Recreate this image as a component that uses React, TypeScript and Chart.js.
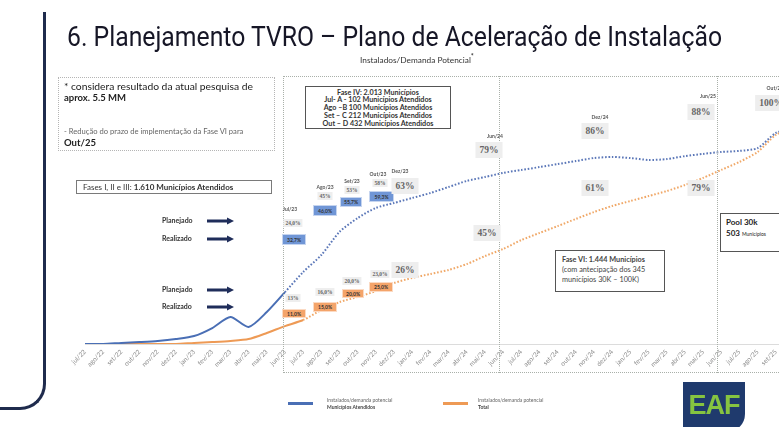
import React, { useEffect, useLayoutEffect, useRef } from "react";
import { Chart, registerables } from "chart.js";

Chart.register(...registerables);

const months = [
  "jul/22", "ago/22", "set/22", "out/22", "nov/22", "dez/22",
  "jan/23", "fev/23", "mar/23", "abr/23", "mai/23", "jun/23",
  "jul/23", "ago/23", "set/23", "out/23", "nov/23", "dez/23",
  "jan/24", "fev/24", "mar/24", "abr/24", "mai/24", "jun/24",
  "jul/24", "ago/24", "set/24", "out/24", "nov/24", "dez/24",
  "jan/25", "fev/25", "mar/25", "abr/25", "mai/25", "jun/25",
  "jul/25", "ago/25", "set/25", "out/25",
];

const municipiosAtendidos = [
  0, 0, 0.5, 0.9, 1.4, 2.3, 3.7, 7.4, 12.5, 7.9, 14.8, 24.0,
  33.3, 41.2, 51.9, 58.3, 63.0, 65.3, 67.6, 69.9, 72.7, 75.5, 77.3, 79.2,
  80.6, 81.9, 83.3, 84.7, 86.1, 86.6, 86.1, 85.2, 85.6, 87.0, 88.0, 88.9,
  89.4, 90.7, 97.7, 100,
];

const total = [
  0, 0, 0, 0, 0, 0, 0.5, 0.9, 1.4, 2.3, 5.1, 8.3,
  11.1, 15.7, 19.4, 21.8, 24.5, 28.2, 30.6, 32.4, 34.3, 37.0, 40.7, 44.0,
  48.1, 51.4, 54.6, 57.9, 61.1, 63.9, 66.2, 68.5, 70.8, 73.6, 76.9, 80.6,
  84.3, 88.9, 96.8, 100,
];

const realizedUntilBlue = 11;
const realizedUntilOrange = 12;

const BLUE = "#4a6fb5";
const BLUE_DOT = "#5b77b8";
const ORANGE = "#ee9a55";
const ORANGE_DOT = "#f0a868";

const body = "Lato, 'Open Sans', sans-serif";

function Abs(props: { x: number; y: number; children?: any; style?: any }) {
  return (
    <div style={{ position: "absolute", left: props.x, top: props.y, whiteSpace: "nowrap", ...props.style }}>
      {props.children}
    </div>
  );
}

function Arrow({ x, y }: { x: number; y: number }) {
  return (
    <svg style={{ position: "absolute", left: x, top: y - 4 }} width={28} height={8}>
      <line x1={0} y1={4} x2={21} y2={4} stroke="#1f2d5a" strokeWidth={3} />
      <polygon points="20,0.5 27,4 20,7.5" fill="#1f2d5a" />
    </svg>
  );
}

function Pct({ x, y, text, big }: { x: number; y: number; text: string; big?: boolean }) {
  return (
    <div
      style={{
        position: "absolute",
        left: x,
        top: y,
        transform: "translate(-50%,-50%)",
        background: "#eeeeee",
        color: "#666",
        fontFamily: "'Liberation Serif', 'DejaVu Serif', serif",
        fontWeight: "bold",
        fontSize: big ? 9.5 : 5.5,
        padding: big ? "3px 4px" : "1px 2px",
        whiteSpace: "nowrap",
      }}
    >
      {text}
    </div>
  );
}

function Tiny({ x, y, text }: { x: number; y: number; text: string }) {
  return (
    <div
      style={{
        position: "absolute",
        left: x,
        top: y,
        transform: "translate(-50%,-50%)",
        color: "#555",
        fontFamily: body,
        fontWeight: "bold",
        fontSize: 5,
        whiteSpace: "nowrap",
      }}
    >
      {text}
    </div>
  );
}

function Box({ x1, y1, x2, y2, text, color }: { x1: number; y1: number; x2: number; y2: number; text: string; color: string }) {
  return (
    <div
      style={{
        position: "absolute",
        left: x1,
        top: y1,
        width: x2 - x1,
        height: y2 - y1,
        background: color,
        color: "#333",
        fontFamily: body,
        fontWeight: "bold",
        fontSize: 5,
        display: "flex",
        alignItems: "center",
        justifyContent: "center",
        boxSizing: "border-box",
        border: "1px solid rgba(255,255,255,0.6)",
      }}
    >
      {text}
    </div>
  );
}

export default function App() {
  const ref = useRef<HTMLCanvasElement>(null);
  const titleRef = useRef<HTMLDivElement>(null);

  useLayoutEffect(() => {
    const el = titleRef.current;
    if (!el) return;
    const w = el.getBoundingClientRect().width;
    if (w > 0) el.style.transform = `scaleX(${655 / w})`;
  }, []);

  useEffect(() => {
    if (!ref.current) return;
    const chart = new Chart(ref.current, {
      type: "line",
      data: {
        labels: months,
        datasets: [
          {
            label: "Municípios Atendidos",
            data: municipiosAtendidos,
            borderColor: BLUE,
            borderWidth: 2,
            pointRadius: 0,
            tension: 0.25,
            segment: {
              borderDash: (c: any) => (c.p0DataIndex >= realizedUntilBlue ? [1.6, 1.8] : undefined),
              borderColor: (c: any) => (c.p0DataIndex >= realizedUntilBlue ? BLUE_DOT : BLUE),
            },
          },
          {
            label: "Total",
            data: total,
            borderColor: ORANGE,
            borderWidth: 2,
            pointRadius: 0,
            tension: 0.25,
            segment: {
              borderDash: (c: any) => (c.p0DataIndex >= realizedUntilOrange ? [1.6, 1.8] : undefined),
              borderColor: (c: any) => (c.p0DataIndex >= realizedUntilOrange ? ORANGE_DOT : ORANGE),
            },
          },
        ],
      },
      options: {
        animation: false,
        responsive: false,
        events: [],
        layout: { padding: { left: 85, right: 36, top: 128, bottom: 43 } },
        plugins: { legend: { display: false }, tooltip: { enabled: false } },
        scales: {
          x: {
            grid: { display: false, drawTicks: false },
            border: { display: true, color: "#dcdcdc", width: 1 },
            ticks: {
              autoSkip: false,
              minRotation: 45,
              maxRotation: 45,
              padding: 4,
              color: "#8a8a8a",
              font: { size: 6.5, family: "Lato" },
            },
            afterFit: (s: any) => {
              s.height = 40;
            },
          },
          y: { display: false, min: 0, max: 100 },
        },
      },
    });
    return () => chart.destroy();
  }, []);

  const dotted = "1.5px dotted #a9b0a9";

  return (
    <div
      style={{
        position: "fixed",
        left: 0,
        top: 0,
        width: 779,
        height: 427,
        overflow: "hidden",
        background: "#fff",
        fontFamily: body,
      }}
    >
      <canvas ref={ref} width={830} height={427} style={{ position: "absolute", left: 0, top: 0 }} />

      {/* left decorative bracket */}
      <div
        style={{
          position: "absolute",
          left: -10,
          top: 12,
          width: 56,
          height: 398,
          borderRight: "3px solid #1f2b4d",
          borderBottom: "3px solid #1f2b4d",
          borderBottomRightRadius: 26,
          boxSizing: "border-box",
        }}
      />

      {/* title */}
      <div
        ref={titleRef}
        style={{
          position: "absolute",
          left: 67,
          top: 21,
          display: "inline-block",
          whiteSpace: "nowrap",
          transformOrigin: "left top",
          fontFamily: "Roboto, 'Liberation Sans', sans-serif",
          fontSize: 27,
          color: "#161626",
        }}
      >
        6. Planejamento TVRO – Plano de Aceleração de Instalação
      </div>
      <Abs x={360} y={52} style={{ fontSize: 8.3, color: "#333" }}>
        Instalados/Demanda Potencial<sup style={{ fontSize: 7, fontWeight: "bold" }}>*</sup>
      </Abs>

      {/* dotted frames */}
      <div style={{ position: "absolute", left: 58, top: 77, width: 217, height: 74, border: "1px dotted #b5b5b5", boxSizing: "border-box" }} />
      <div style={{ position: "absolute", left: 283, top: 76, width: 496, height: 0, borderTop: dotted }} />
      <div style={{ position: "absolute", left: 283, top: 372, width: 496, height: 0, borderTop: dotted }} />
      <div style={{ position: "absolute", left: 283, top: 76, width: 0, height: 297, borderLeft: dotted }} />
      <div style={{ position: "absolute", left: 499, top: 76, width: 0, height: 297, borderLeft: dotted }} />
      <div style={{ position: "absolute", left: 717, top: 76, width: 0, height: 297, borderLeft: dotted }} />

      {/* note box */}
      <Abs x={64} y={80} style={{ fontSize: 10.3, color: "#222" }}>* considera resultado da atual pesquisa de</Abs>
      <Abs x={64} y={92} style={{ fontSize: 9.5, color: "#222", fontWeight: "bold" }}>aprox. 5.5 MM</Abs>
      <Abs x={64} y={126} style={{ fontSize: 7.6, color: "#666" }}>- Redução do prazo de implementação da Fase VI para</Abs>
      <Abs x={64} y={137} style={{ fontSize: 9.5, color: "#222", fontWeight: "bold" }}>Out/25</Abs>

      {/* Fases I-III */}
      <div
        style={{
          position: "absolute",
          left: 76,
          top: 180,
          width: 196,
          height: 14,
          border: "1px solid #7a7a7a",
          boxSizing: "border-box",
          fontSize: 8,
          color: "#333",
          paddingLeft: 6,
          lineHeight: "12px",
          whiteSpace: "nowrap",
        }}
      >
        Fases I, II e III: <b>1.610 Municípios Atendidos</b>
      </div>

      {/* Planejado / Realizado */}
      {[
        { y: 221, t: "Planejado" },
        { y: 239, t: "Realizado" },
        { y: 290, t: "Planejado" },
        { y: 307, t: "Realizado" },
      ].map((r, i) => (
        <React.Fragment key={i}>
          <Abs x={162} y={r.y - 5} style={{ fontSize: 7, fontWeight: "bold", color: "#333" }}>{r.t}</Abs>
          <Arrow x={207} y={r.y} />
        </React.Fragment>
      ))}

      {/* Fase IV box */}
      <div
        style={{
          position: "absolute",
          left: 305,
          top: 86,
          width: 146,
          height: 43,
          border: "1px solid #555",
          boxSizing: "border-box",
          background: "#fff",
          textAlign: "center",
          fontSize: 7.2,
          fontWeight: "bold",
          color: "#333",
          lineHeight: "7.9px",
          paddingTop: 1.5,
          whiteSpace: "nowrap",
        }}
      >
        <div>Fase IV: 2.013 Municípios</div>
        <div>Jul- A - 102 Municípios Atendidos</div>
        <div>Ago –B 100 Municípios Atendidos</div>
        <div>Set – C 212 Municípios Atendidos</div>
        <div>Out – D 432 Municípios Atendidos</div>
      </div>

      {/* blue planned / realized */}
      <Tiny x={290} y={209} text="Jul/23" />
      <Pct x={293} y={223} text="24,0%" />
      <Box x1={282} y1={234} x2={306} y2={245} text="32,7%" color="#7096d6" />
      <Tiny x={325} y={187} text="Ago/23" />
      <Pct x={325} y={196} text="45%" />
      <Box x1={313} y1={205} x2={337} y2={216} text="46,0%" color="#7096d6" />
      <Tiny x={352} y={181} text="Set/23" />
      <Pct x={352} y={190} text="53%" />
      <Box x1={340} y1={197} x2={362} y2={207} text="55,7%" color="#7096d6" />
      <Tiny x={378} y={174} text="Out/23" />
      <Tiny x={400} y={171} text="Dez/23" />
      <Pct x={380} y={183} text="58%" />
      <Box x1={369} y1={191} x2={394} y2={202} text="59,3%" color="#7096d6" />
      <Pct x={405} y={186} text="63%" big />

      {/* orange planned / realized */}
      <Pct x={293} y={298} text="13%" />
      <Box x1={282} y1={309} x2={306} y2={318} text="11,0%" color="#f4a46a" />
      <Pct x={325} y={292} text="16,0%" />
      <Box x1={313} y1={302} x2={337} y2={312} text="15,0%" color="#f4a46a" />
      <Pct x={352} y={281} text="20,0%" />
      <Box x1={342} y1={289} x2={364} y2={298} text="20,0%" color="#f4a46a" />
      <Pct x={380} y={274} text="23,0%" />
      <Box x1={369} y1={282} x2={393} y2={292} text="25,0%" color="#f4a46a" />
      <Pct x={405} y={270} text="26%" big />

      {/* milestone labels */}
      <Tiny x={495} y={136} text="Jun/24" />
      <Pct x={489} y={150} text="79%" big />
      <Pct x={487} y={233} text="45%" big />
      <Tiny x={600} y={117} text="Dez/24" />
      <Pct x={595} y={131} text="86%" big />
      <Pct x={595} y={188} text="61%" big />
      <Tiny x={708} y={96} text="Jun/25" />
      <Pct x={701} y={112} text="88%" big />
      <Pct x={701} y={188} text="79%" big />
      <Tiny x={775} y={88} text="Out/25" />
      <Pct x={771} y={103} text="100%" big />

      {/* Fase VI box */}
      <div
        style={{
          position: "absolute",
          left: 555,
          top: 250,
          width: 110,
          height: 42,
          border: "1px solid #555",
          boxSizing: "border-box",
          background: "#fff",
          fontSize: 7.3,
          color: "#444",
          lineHeight: "10px",
          padding: "4px 0 0 6px",
          whiteSpace: "nowrap",
        }}
      >
        <div><b>Fase VI: 1.444 Municípios</b></div>
        <div>(com antecipação dos 345</div>
        <div>municípios 30K – 100K)</div>
      </div>

      {/* Pool box */}
      <div
        style={{
          position: "absolute",
          left: 720,
          top: 213,
          width: 80,
          height: 39,
          border: "1px solid #555",
          boxSizing: "border-box",
          background: "#fff",
          fontSize: 8,
          color: "#222",
          lineHeight: "11px",
          padding: "3px 0 0 5px",
          whiteSpace: "nowrap",
        }}
      >
        <div><b>Pool 30k</b></div>
        <div><b>503</b> <span style={{ fontSize: 5 }}>Municípios</span></div>
      </div>

      {/* legend */}
      <div style={{ position: "absolute", left: 288, top: 402, width: 25, height: 3, background: BLUE }} />
      <Abs x={327} y={397} style={{ fontSize: 5, color: "#666", lineHeight: "7px" }}>
        <div>Instalados/demanda potencial</div>
        <div style={{ fontWeight: "bold", color: "#444" }}>Municípios Atendidos</div>
      </Abs>
      <div style={{ position: "absolute", left: 443, top: 402, width: 25, height: 3, background: ORANGE }} />
      <Abs x={478} y={397} style={{ fontSize: 5, color: "#666", lineHeight: "7px" }}>
        <div>Instalados/demanda potencial</div>
        <div style={{ fontWeight: "bold", color: "#444" }}>Total</div>
      </Abs>

      {/* EAF logo */}
      <div
        style={{
          position: "absolute",
          left: 683,
          top: 382,
          width: 62,
          height: 50,
          background: "#1f3a6d",
          borderBottomRightRadius: 18,
          display: "flex",
          alignItems: "center",
          justifyContent: "center",
          color: "#86c440",
          fontFamily: "'Liberation Sans', Arial, sans-serif",
          fontWeight: "bold",
          fontSize: 27,
          letterSpacing: -1,
          paddingBottom: 4,
          boxSizing: "border-box",
        }}
      >
        EAF
      </div>
    </div>
  );
}
